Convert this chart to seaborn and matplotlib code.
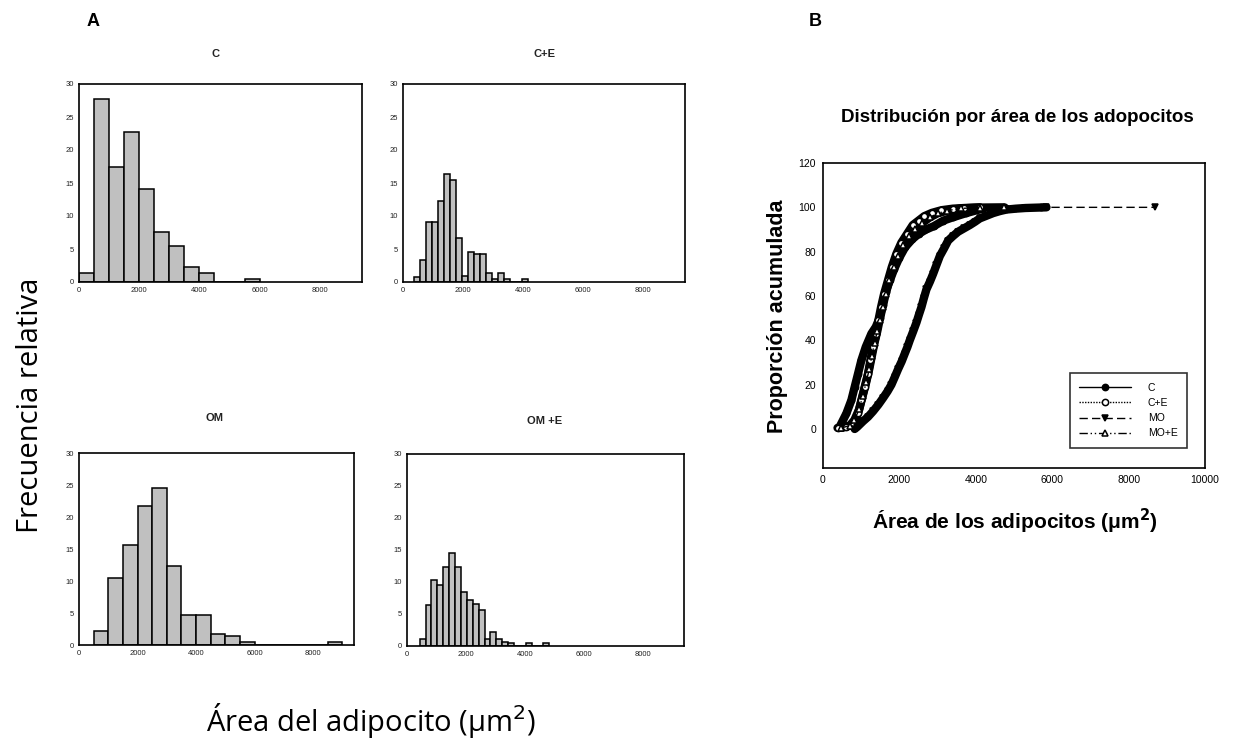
import numpy as np
import pandas as pd
import matplotlib
matplotlib.use("Agg")
import matplotlib.pyplot as plt
import seaborn as sns

# Panel A: relative frequency histograms (bin left edge, % of cells)
c_width = 500
c_bins = [0, 500, 1000, 1500, 2000, 2500, 3000, 3500, 4000, 4500, 5000, 5500]
c_freq = [1.3, 27.8, 17.4, 22.8, 14.1, 7.6, 5.4, 2.2, 1.3, 0, 0, 0.45]

ce_width = 200
ce_bins = [350, 550, 750, 950, 1150, 1350, 1550, 1750, 1950, 2150, 2350, 2550,
           2750, 2950, 3150, 3350, 3550, 3750, 3950]
ce_freq = [0.8, 3.4, 9.1, 9.1, 12.2, 16.3, 15.4, 6.7, 0.9, 4.6, 4.3, 4.3,
           1.3, 0.45, 1.3, 0.45, 0, 0, 0.45]

om_width = 500
om_bins = [500, 1000, 1500, 2000, 2500, 3000, 3500, 4000, 4500, 5000, 5500,
           6000, 6500, 7000, 7500, 8000, 8500]
om_freq = [2.2, 10.5, 15.7, 21.7, 24.5, 12.3, 4.7, 4.7, 1.7, 1.35, 0.47,
           0, 0, 0, 0, 0, 0.47]

ome_width = 200
ome_bins = [430, 630, 830, 1030, 1230, 1430, 1630, 1830, 2030, 2230, 2430,
            2630, 2830, 3030, 3230, 3430, 3630, 3830, 4030, 4230, 4430, 4630]
ome_freq = [1.04, 6.35, 10.3, 9.6, 12.3, 14.6, 12.3, 8.5, 7.2, 6.5, 5.6,
            1.1, 2.2, 1.1, 0.65, 0.4, 0, 0, 0.4, 0, 0, 0.4]

# Panel B: cumulative proportion curves
c_x = [437, 612, 743, 830, 918, 1005, 1119, 1267, 1381, 1480, 1560, 1640, 1750,
       1860, 1990, 2150, 2330, 2500, 2700, 2900, 3150, 3400, 3750, 4200, 4800, 5700]
c_y = [1, 7, 13, 19, 25, 31, 37, 43, 46, 50, 56, 62, 67,
       72, 77, 82, 85.5, 88, 90, 91.5, 94, 95.5, 97.4, 99.5, 99.8, 100.3]

ce_x = [380, 600, 787, 918, 1005, 1092, 1180, 1241, 1311, 1398, 1450, 1520, 1600,
        1700, 1800, 1920, 2050, 2200, 2350, 2500, 2650, 2850, 3100, 3400, 3700, 4100]
ce_y = [0.5, 1, 2, 7, 13, 19, 25, 31, 37, 43, 49, 55, 61,
        67, 73, 79, 84, 88, 92, 94, 96, 97.5, 98.7, 99.4, 99.7, 100]

mo_x = [830, 900, 1049, 1180, 1311, 1450, 1573, 1690, 1791, 1880, 1966, 2060, 2140,
        2210, 2271, 2360, 2446, 2510, 2577, 2640, 2708, 2800, 2883, 2970, 3058, 3170,
        3276, 3400, 3538, 3690, 3843, 3980, 4105, 4280, 4455, 4630, 4804, 5050, 5300,
        5850, 8690]
mo_y = [0, 1, 3.5, 5.5, 8, 11, 14, 17, 20, 23.5, 27, 30.5, 34,
        37, 40, 44, 48, 51.5, 55, 59, 63, 66.5, 70, 74, 78, 81.5,
        85, 87, 89, 90.5, 92, 93.5, 95, 96.2, 97.4, 98.3, 99, 99.4, 99.7,
        100, 100]

moe_x = [480, 700, 820, 950, 1040, 1130, 1210, 1280, 1350, 1420, 1480, 1560, 1640,
         1740, 1850, 1960, 2100, 2260, 2420, 2600, 2800, 3000, 3250, 3600, 4100, 4750]
moe_y = [0.5, 1.5, 4, 9, 15, 21, 27, 33, 39, 44, 49, 55, 61,
         67, 73, 78, 83, 87, 90, 93, 95.5, 97.3, 98.5, 99.5, 99.9, 100]

sns.set_style("white")
plt.rcParams["font.family"] = ["Liberation Sans", "DejaVu Sans"]
plt.rcParams.update({"text.color": "black", "axes.labelcolor": "black",
                     "xtick.color": "black", "ytick.color": "black"})

W, H = 1233, 747
fig = plt.figure(figsize=(W / 100, H / 100), dpi=100)


def box(left, top, right, bottom):
    return [left / W, 1 - bottom / H, (right - left) / W, (bottom - top) / H]


def draw_hist(rect, bins, freq, width, title, title_xy):
    ax = fig.add_axes(rect)
    left = np.array(bins, dtype=float)
    edges = np.append(left, left[-1] + width).tolist()
    df = pd.DataFrame({"area": left + width / 2, "freq": freq})
    sns.histplot(data=df, x="area", weights="freq", bins=edges, ax=ax,
                 color="#c0c0c0", edgecolor="black", linewidth=1.1, alpha=1)
    ax.set_xlim(0, 9400)
    ax.set_ylim(0, 30)
    ax.set_xticks([0, 2000, 4000, 6000, 8000])
    ax.set_yticks([0, 5, 10, 15, 20, 25, 30])
    ax.set_xlabel("")
    ax.set_ylabel("")
    ax.tick_params(labelsize=5.5, length=2, width=0.8, direction="out",
                   colors="#222222", pad=1.5)
    for s in ax.spines.values():
        s.set_color("black")
        s.set_linewidth(1.2)
    fig.text(title_xy[0] / W, 1 - title_xy[1] / H, title, ha="center",
             va="center", fontsize=8, weight="bold", color="#222222")
    return ax


draw_hist(box(79, 84, 362, 282), c_bins, c_freq, c_width, "C", (215, 54))
draw_hist(box(403, 84, 685, 282), ce_bins, ce_freq, ce_width, "C+E", (545, 54))
draw_hist(box(79, 453, 354, 645), om_bins, om_freq, om_width, "OM", (215, 418))
draw_hist(box(407, 454, 684, 646), ome_bins, ome_freq, ome_width, "OM +E", (545, 421))

# shared labels of panel A
fig.text(30 / W, 1 - 405 / H, "Frecuencia relativa", rotation=90, ha="center",
         va="center", fontsize=21, family=["Open Sans", "DejaVu Sans"])
fig.text(371 / W, 1 - 720 / H, "Área del adipocito (μm$^2$)", ha="center",
         va="center", fontsize=21, family=["Open Sans", "DejaVu Sans"])

fig.text(93 / W, 1 - 22 / H, "A", ha="center", va="center", fontsize=13, weight="bold")
fig.text(815 / W, 1 - 22 / H, "B", ha="center", va="center", fontsize=13, weight="bold")

# Panel B
axb = fig.add_axes(box(823, 163, 1205, 468))

# dense marker band behind each curve
for xs, ys in [(c_x[:-2], c_y[:-2]), (ce_x, ce_y), (mo_x[:-1], mo_y[:-1]), (moe_x, moe_y)]:
    sns.lineplot(x=xs, y=ys, ax=axb, sort=False, estimator=None, color="black",
                 lw=6, legend=False)

series = [
    ("C", c_x, c_y, "-", "o", "black"),
    ("C+E", ce_x, ce_y, (0, (1, 1)), "o", "white"),
    ("MO", mo_x, mo_y, (0, (6, 3)), "v", "black"),
    ("MO+E", moe_x, moe_y, (0, (6, 2, 1, 2, 1, 2)), "^", "white"),
]
for name, xs, ys, ls, mk, fc in series:
    sns.lineplot(x=xs, y=ys, ax=axb, sort=False, estimator=None, color="black",
                 lw=1, linestyle=ls, marker=mk, markersize=4.5, markerfacecolor=fc,
                 markeredgecolor="black", markeredgewidth=1.1, label=name)

axb.set_xlim(0, 10000)
axb.set_ylim(-17.6, 120)
axb.set_xticks([0, 2000, 4000, 6000, 8000, 10000])
axb.set_yticks([0, 20, 40, 60, 80, 100, 120])
axb.set_xlabel("")
axb.set_ylabel("")
axb.tick_params(labelsize=7.5, length=3, width=0.8, direction="out", pad=2)
for s in axb.spines.values():
    s.set_color("black")
    s.set_linewidth(1.2)

leg = axb.legend(loc="lower right", bbox_to_anchor=(0.966, 0.049), frameon=True,
                 fancybox=False, edgecolor="black", fontsize=7.5, handlelength=5.0,
                 labelspacing=0.5, borderpad=0.9, handletextpad=1.6)
leg.get_frame().set_linewidth(1.2)

fig.text(1017 / W, 1 - 118 / H, "Distribución por área de los adopocitos",
         ha="center", va="center", fontsize=13.5, weight="bold")
fig.text(778 / W, 1 - 316 / H, "Proporción acumulada", rotation=90, ha="center",
         va="center", fontsize=15.5, weight="bold")
fig.text(1015 / W, 1 - 521 / H, "Área de los adipocitos (μm$^\\mathbf{2}$)",
         ha="center", va="center", fontsize=15, weight="bold")

fig.savefig("out.png", dpi=100)
